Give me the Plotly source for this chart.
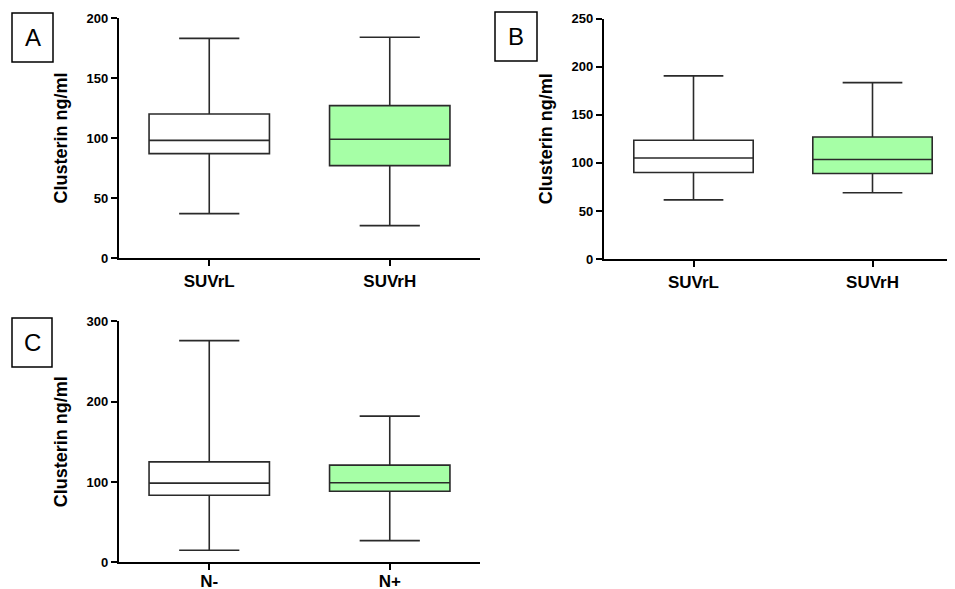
import plotly.graph_objects as go

W, H = 955, 589
OFF = 8  # page body margin in the browser

# Panel A
a_cats = ["SUVrL", "SUVrH"]
a_min = [37, 27]
a_q1 = [87, 77]
a_med = [98, 99]
a_q3 = [120, 127]
a_max = [183, 184]

# Panel B
b_cats = ["SUVrL", "SUVrH"]
b_min = [61.5, 69]
b_q1 = [90, 89]
b_med = [105, 103.5]
b_q3 = [123.5, 127]
b_max = [190.5, 183.5]

# Panel C
c_cats = ["N-", "N+"]
c_min = [15, 27]
c_q1 = [83.5, 88.5]
c_med = [98.5, 99]
c_q3 = [125, 121]
c_max = [276, 182]

fills = ["white", "rgb(166,255,166)"]

FONT = "Liberation Sans, Arial, sans-serif"

fig = go.Figure()

panels = [
    ("x", "y", a_cats, a_min, a_q1, a_med, a_q3, a_max),
    ("x2", "y2", b_cats, b_min, b_q1, b_med, b_q3, b_max),
    ("x3", "y3", c_cats, c_min, c_q1, c_med, c_q3, c_max),
]

for xa, ya, cats, mn, q1, md, q3, mx in panels:
    for i, c in enumerate(cats):
        fig.add_trace(go.Box(
            x=[c], lowerfence=[mn[i]], q1=[q1[i]], median=[md[i]],
            q3=[q3[i]], upperfence=[mx[i]],
            fillcolor=fills[i], line=dict(color="#2a2a2a", width=1.6),
            width=0.667, whiskerwidth=0.5, boxpoints=False,
            xaxis=xa, yaxis=ya, showlegend=False, hoverinfo="skip",
        ))

def px_x(p):
    return (p - OFF) / W

def px_y(p):
    return 1 - (p - OFF) / H

axis_common = dict(
    showline=True, linecolor="black", linewidth=2.2, ticks="outside",
    ticklen=6, tickwidth=2, tickcolor="black", showgrid=False, zeroline=False,
    automargin=False,
)
tickfont = dict(family=FONT, size=13, color="black", weight="bold")
catfont = dict(family=FONT, size=17, color="black", weight="bold")
titlefont = dict(family=FONT, size=18, color="black", weight="bold")

fig.update_layout(
    width=W, height=H, margin=dict(l=0, r=0, t=0, b=0),
    paper_bgcolor="white", plot_bgcolor="white", boxmode="overlay",
    xaxis=dict(domain=[px_x(119), px_x(480)], range=[-0.5, 1.5], anchor="y",
               categoryorder="array", categoryarray=a_cats, tickfont=catfont, **axis_common),
    yaxis=dict(domain=[px_y(258), px_y(18)], range=[0, 200], tickvals=[0, 50, 100, 150, 200],
               anchor="x", tickfont=tickfont,
               title=dict(text="Clusterin ng/ml", font=titlefont, standoff=14), **axis_common),
    xaxis2=dict(domain=[px_x(604), px_x(962)], range=[-0.5, 1.5], anchor="y2",
                categoryorder="array", categoryarray=b_cats, tickfont=catfont, **axis_common),
    yaxis2=dict(domain=[px_y(259), px_y(18.7)], range=[0, 250], tickvals=[0, 50, 100, 150, 200, 250],
                anchor="x2", tickfont=tickfont,
                title=dict(text="Clusterin ng/ml", font=titlefont, standoff=14), **axis_common),
    xaxis3=dict(domain=[px_x(119), px_x(480)], range=[-0.5, 1.5], anchor="y3",
                categoryorder="array", categoryarray=c_cats, tickfont=catfont,
                ticklabelstandoff=-4, **axis_common),
    yaxis3=dict(domain=[px_y(562.3), px_y(321.3)], range=[0, 300], tickvals=[0, 100, 200, 300],
                anchor="x3", tickfont=tickfont,
                title=dict(text="Clusterin ng/ml", font=titlefont, standoff=14), **axis_common),
)

# Panel letter boxes
letters = [("A", 12, 13, 53, 62), ("B", 495, 12, 537, 61), ("C", 12, 318, 52, 367)]
for t, x0, y0, x1, y1 in letters:
    fig.add_shape(type="rect", xref="paper", yref="paper",
                  x0=px_x(x0), x1=px_x(x1), y0=px_y(y1), y1=px_y(y0),
                  line=dict(color="black", width=1.5), fillcolor="white")
    fig.add_annotation(text=t, xref="paper", yref="paper",
                       x=px_x((x0 + x1) / 2), y=px_y((y0 + y1) / 2),
                       showarrow=False, xanchor="center", yanchor="middle",
                       font=dict(family=FONT, size=24, color="black"))

fig.write_html("out.html")
